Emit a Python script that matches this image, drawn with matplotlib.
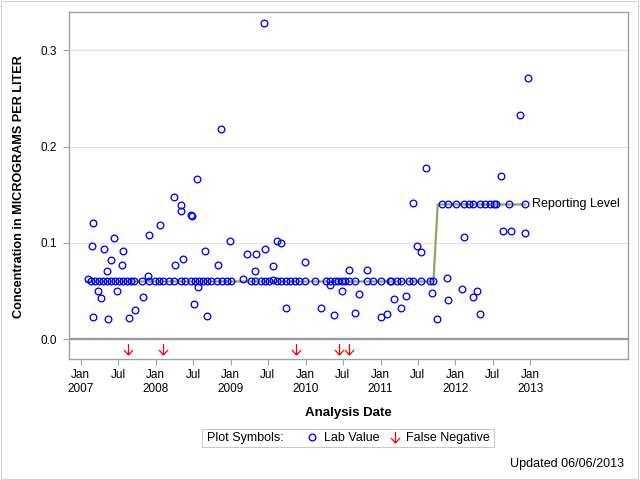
import matplotlib
matplotlib.use("Agg")
import matplotlib.pyplot as plt
from matplotlib.lines import Line2D
from matplotlib.patches import Rectangle
from matplotlib.path import Path
import pandas as pd

plt.rcParams["font.family"] = ["Liberation Sans", "DejaVu Sans"]

# lab results (nondetects are plotted at the reporting level)
lab_dates = [
    "2007-02-04", "2007-02-20", "2007-02-26", "2007-02-27", "2007-02-28", "2007-03-12",
    "2007-03-28", "2007-03-31", "2007-04-07", "2007-04-20", "2007-04-26", "2007-05-09",
    "2007-05-11", "2007-05-12", "2007-05-29", "2007-05-30", "2007-06-14", "2007-06-17",
    "2007-06-24", "2007-07-07", "2007-07-21", "2007-07-26", "2007-07-28", "2007-08-15",
    "2007-08-26", "2007-09-03", "2007-09-18", "2007-09-24", "2007-10-28", "2007-11-02",
    "2007-11-26", "2007-11-27", "2007-11-28", "2007-12-31",
    "2008-01-19", "2008-01-20", "2008-02-08", "2008-03-08", "2008-04-01", "2008-04-01",
    "2008-04-02", "2008-05-01", "2008-05-01", "2008-05-02", "2008-05-15", "2008-05-25",
    "2008-06-23", "2008-06-23", "2008-06-25", "2008-07-08", "2008-07-13", "2008-07-22",
    "2008-07-27", "2008-08-01", "2008-08-21", "2008-08-26", "2008-09-09", "2008-09-09",
    "2008-09-29", "2008-10-28", "2008-11-02", "2008-11-16", "2008-11-21", "2008-12-16",
    "2008-12-30",
    "2009-01-04", "2009-03-04", "2009-03-23", "2009-04-08", "2009-04-30", "2009-05-01",
    "2009-05-06", "2009-05-26", "2009-06-14", "2009-06-19", "2009-06-19", "2009-07-08",
    "2009-07-28", "2009-07-28", "2009-08-12", "2009-08-12", "2009-09-02", "2009-09-02",
    "2009-09-29", "2009-09-29", "2009-10-19", "2009-11-12", "2009-12-02", "2009-12-30",
    "2009-12-31",
    "2010-02-18", "2010-03-19", "2010-04-12", "2010-05-02", "2010-05-02", "2010-05-21",
    "2010-05-26", "2010-06-10", "2010-06-29", "2010-06-29", "2010-07-14", "2010-07-29",
    "2010-07-29", "2010-09-01", "2010-09-01", "2010-09-20", "2010-10-29", "2010-10-29",
    "2010-11-27",
    "2011-01-05", "2011-01-05", "2011-02-04", "2011-02-18", "2011-02-23", "2011-03-10",
    "2011-03-24", "2011-04-13", "2011-04-13", "2011-05-07", "2011-05-22", "2011-06-10",
    "2011-06-10", "2011-06-30", "2011-07-19", "2011-07-19", "2011-08-13", "2011-09-01",
    "2011-09-11", "2011-09-16", "2011-10-05", "2011-10-30", "2011-11-23", "2011-11-28",
    "2011-11-28",
    "2012-01-06", "2012-02-04", "2012-02-14", "2012-02-14", "2012-03-09", "2012-03-29",
    "2012-03-29", "2012-04-13", "2012-05-02", "2012-05-02", "2012-05-26", "2012-06-20",
    "2012-07-09", "2012-07-19", "2012-08-08", "2012-08-22", "2012-09-16", "2012-09-30",
    "2012-11-13", "2012-12-07", "2012-12-07", "2012-12-21",
]
lab_conc = [
    0.0625, 0.06, 0.0966, 0.1205, 0.0232, 0.06,
    0.0498, 0.06, 0.0426, 0.06, 0.0935, 0.06,
    0.0709, 0.0208, 0.06, 0.082, 0.1049, 0.06,
    0.0498, 0.06, 0.0768, 0.06, 0.0914, 0.06,
    0.0221, 0.06, 0.06, 0.0301, 0.06, 0.0436,
    0.0657, 0.06, 0.108, 0.06,
    0.06, 0.1184, 0.06, 0.06, 0.06, 0.1475,
    0.0768, 0.06, 0.1391, 0.1329, 0.0831, 0.06,
    0.06, 0.1288, 0.1275, 0.0363, 0.06, 0.1661,
    0.054, 0.06, 0.06, 0.0914, 0.06, 0.0239,
    0.06, 0.06, 0.0768, 0.218, 0.06, 0.06,
    0.1018,
    0.06, 0.0623, 0.0883, 0.06, 0.0709, 0.06,
    0.0883, 0.06, 0.3281, 0.06, 0.0935, 0.06,
    0.0758, 0.0615, 0.06, 0.1018, 0.06, 0.0997,
    0.06, 0.0322, 0.06, 0.06, 0.06, 0.080,
    0.06,
    0.06, 0.0322, 0.06, 0.06, 0.0561, 0.0249,
    0.06, 0.06, 0.06, 0.0498, 0.06, 0.06,
    0.0717, 0.06, 0.027, 0.0467, 0.06, 0.0717,
    0.06,
    0.06, 0.0228, 0.026, 0.06, 0.06, 0.0415,
    0.06, 0.06, 0.0322, 0.0447, 0.06, 0.06,
    0.1412, 0.0966, 0.06, 0.0903, 0.1776, 0.06,
    0.0478, 0.06, 0.0208, 0.14, 0.0633, 0.14,
    0.0405,
    0.14, 0.0519, 0.14, 0.1059, 0.14, 0.14,
    0.0436, 0.0498, 0.14, 0.026, 0.14, 0.14,
    0.14, 0.14, 0.1693, 0.1121, 0.14, 0.1121,
    0.2326, 0.14, 0.110, 0.271,
]

# reporting level step
rl_dates = ["2007-01-30", "2011-09-16", "2011-10-07", "2012-12-07"]
rl_levels = [0.06, 0.06, 0.14, 0.14]

# false negatives, drawn just below zero
fn_dates = ["2007-08-21", "2008-02-08", "2009-11-16", "2010-06-15", "2010-08-01"]
fn_level = -0.0098

tick_dates = ["2007-01-01", "2007-07-01", "2008-01-01", "2008-07-01", "2009-01-01",
              "2009-07-01", "2010-01-01", "2010-07-01", "2011-01-01", "2011-07-01",
              "2012-01-01", "2012-07-01", "2013-01-01"]
tick_labels = ["Jan\n2007", "Jul", "Jan\n2008", "Jul", "Jan\n2009", "Jul", "Jan\n2010",
               "Jul", "Jan\n2011", "Jul", "Jan\n2012", "Jul", "Jan\n2013"]
y_ticks = [0.0, 0.1, 0.2, 0.3]

W, H = 640, 480
GRAY = "#A0A0A0"

arrow = Path([(0, 1), (0, -1), (-0.82, -0.1), (0, -1), (0.82, -0.1)],
             [Path.MOVETO, Path.LINETO, Path.MOVETO, Path.LINETO, Path.LINETO])

fig = plt.figure(figsize=(6.4, 4.8), dpi=100)
ax = fig.add_axes([68.5 / W, 1 - 359 / H, (628.3 - 68.5) / W, (359 - 11.7) / H])

ax.plot(pd.to_datetime(rl_dates), rl_levels, color="#8FA85A", lw=1.6, zorder=2)
ax.plot(pd.to_datetime(lab_dates), lab_conc, linestyle="none", marker="o", ms=4.8,
        mfc="none", mec="#0000FF", mew=0.95, zorder=3)
ax.plot(pd.to_datetime(fn_dates), [fn_level] * len(fn_dates), linestyle="none",
        marker=arrow, ms=7.9, mfc="none", mec="#FF0000", mew=0.9, zorder=3)
ax.annotate("Reporting Level", xy=(pd.Timestamp(rl_dates[-1]), rl_levels[-1]),
            xytext=(4.5, 0), textcoords="offset points", va="center", fontsize=9)

ax.axhline(0, color="#9A9A9A", lw=1.6, zorder=1.5)
ax.grid(axis="y", color="#E2E2E2", lw=0.8)
ax.set_axisbelow(True)

ax.set_xlim(pd.Timestamp("2006-11-02"), pd.Timestamp("2014-04-23"))
ax.set_ylim(-0.0205, 0.3402)
ax.set_xticks(pd.to_datetime(tick_dates))
ax.set_xticklabels(tick_labels)
ax.set_yticks(y_ticks)
ax.set_yticklabels([f"{v:.1f}" for v in y_ticks])
ax.tick_params(direction="out", length=4.3, width=0.8, color=GRAY, labelsize=8.5)
ax.tick_params(axis="x", pad=3)
ax.tick_params(axis="y", pad=4)
for s in ax.spines.values():
    s.set_color(GRAY)
    s.set_linewidth(1.0)

fig.text(19 / W, 1 - 187 / H, "Concentration in MICROGRAMS PER LITER", rotation=90,
         ha="center", va="center", fontsize=9.1, fontweight="bold")
fig.text(348.4 / W, 1 - 413 / H, "Analysis Date", ha="center", va="center",
         fontsize=9.5, fontweight="bold")

# legend box
fig.patches.append(Rectangle((202.3 / W, 1 - 447.3 / H), 292 / W, 18 / H,
                             transform=fig.transFigure, fill=False,
                             edgecolor="#C8C8C8", lw=0.75))
fig.text(206.7 / W, 1 - 438.3 / H, "Plot Symbols:", ha="left", va="center", fontsize=9)
handles = [
    Line2D([], [], linestyle="none", marker="o", ms=4.8, mfc="none", mec="#0000FF", mew=0.95),
    Line2D([], [], linestyle="none", marker=arrow, ms=7.9, mfc="none", mec="#FF0000", mew=0.9),
]
fig.legend(handles, ["Lab Value", "False Negative"], loc="center left",
           bbox_to_anchor=(306 / W, 1 - 438.3 / H), ncol=2, frameon=False, fontsize=9,
           handlelength=1.0, handletextpad=0.45, columnspacing=0.7,
           borderpad=0, borderaxespad=0)

fig.text(624.5 / W, 1 - 463.7 / H, "Updated 06/06/2013", ha="right", va="center", fontsize=9)

# outer frame
fig.patches.append(Rectangle((0.5 / W, 1 - 478.5 / H), 637 / W, 477.5 / H,
                             transform=fig.transFigure, fill=False,
                             edgecolor="#D0D0D0", lw=0.75))

fig.savefig("out.png", dpi=100)
